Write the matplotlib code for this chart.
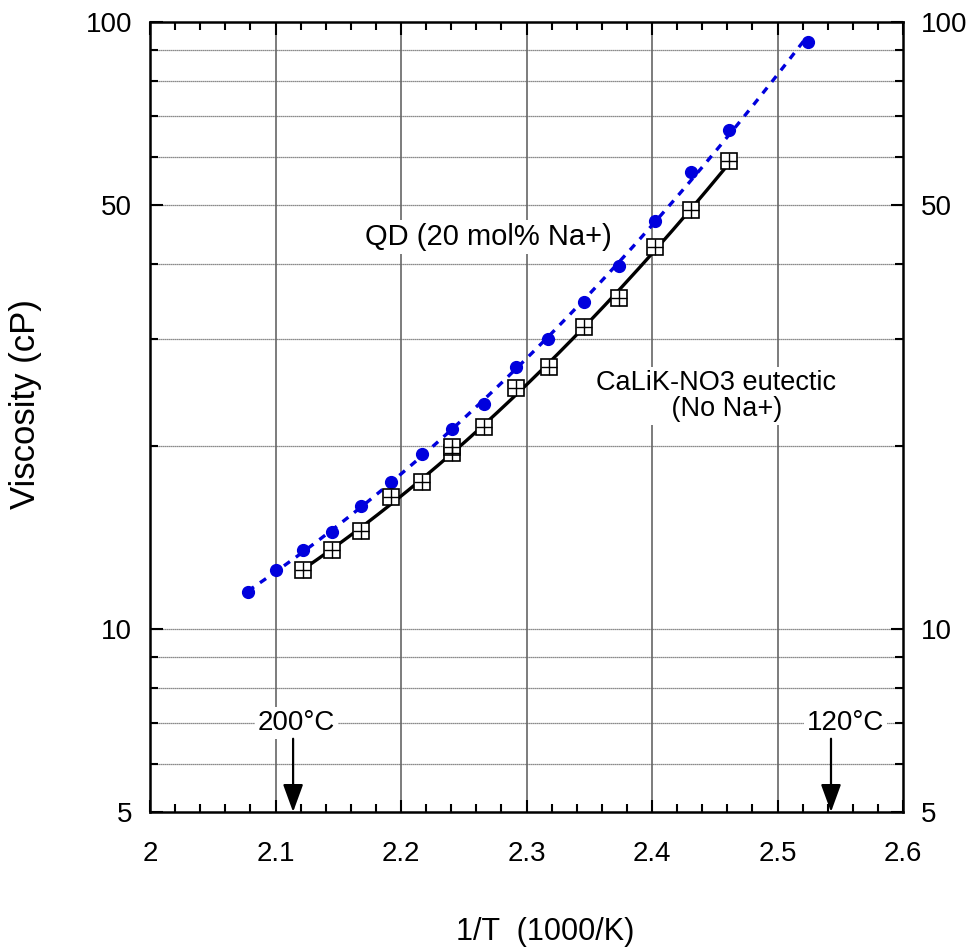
import numpy as np
import matplotlib
matplotlib.use('Agg')
import matplotlib.pyplot as plt
from matplotlib.ticker import FixedLocator, NullFormatter, MultipleLocator

plt.rcParams['font.family'] = ['Liberation Sans', 'DejaVu Sans']

# QD (20 mol% Na+) measured points
qd_x = [2.078, 2.100, 2.122, 2.145, 2.168, 2.192, 2.217, 2.241, 2.266,
        2.292, 2.317, 2.346, 2.374, 2.402, 2.431, 2.461, 2.524]
qd_y = [11.5, 12.5, 13.5, 14.45, 15.95, 17.5, 19.4, 21.4, 23.5,
        27.0, 30.0, 34.6, 39.6, 47.0, 56.6, 66.4, 92.7]

# CaLiK-NO3 eutectic (no Na+)
ck_x = [2.122, 2.145, 2.168, 2.192, 2.217, 2.241, 2.241, 2.266, 2.292,
        2.318, 2.346, 2.374, 2.402, 2.431, 2.461]
ck_y = [12.5, 13.5, 14.5, 16.5, 17.5, 19.5, 19.95, 21.5, 25.0,
        27.0, 31.4, 35.1, 42.6, 49.0, 59.0]

y_grid = [6, 7, 8, 9, 10, 20, 30, 40, 50, 60, 70, 80, 90]
y_labels = [5, 10, 50, 100]

fig = plt.figure(figsize=(9.71, 9.52), dpi=100)
ax = fig.add_axes([0.1545, 0.1471, 0.7755, 0.8298])
ax.set_yscale('log')
ax.set_xlim(2.0, 2.6)
ax.set_ylim(5, 100)

# grid
for g in y_grid:
    ax.axhline(g, color='#666666', lw=0.9, ls=(0, (1, 0.6)), zorder=0)
for g in [2.1, 2.2, 2.3, 2.4, 2.5]:
    ax.axvline(g, color='#666666', lw=1.2, zorder=0)

# fitted curves (quadratic in log space)
def fit_curve(x, y, x0, x1):
    c = np.polyfit(x, np.log10(y), 2)
    xs = np.linspace(x0, x1, 200)
    return xs, 10 ** np.polyval(c, xs)

xs, ys = fit_curve(qd_x, qd_y, qd_x[0], qd_x[-1])
ax.plot(xs, ys, color='#0000dd', lw=2.4, ls=(0, (2.2, 2.2)), zorder=2)
xs, ys = fit_curve(ck_x, ck_y, ck_x[0], ck_x[-1])
ax.plot(xs, ys, color='black', lw=2.4, zorder=2)

ax.plot(qd_x, qd_y, 'o', color='#0000dd', ms=8.5, zorder=3)
ax.plot(ck_x, ck_y, 's', mfc='white', mec='black', mew=1.2, ms=11, zorder=4)
ax.plot(ck_x, ck_y, '+', color='black', mew=1.0, ms=11, zorder=5)

box = dict(facecolor='white', edgecolor='none', pad=2)
ax.text(2.270, 44.3, 'QD (20 mol% Na+)', fontsize=21, ha='center', va='center', bbox=box, zorder=6)
ax.text(2.451, 24.2, 'CaLiK-NO3 eutectic\n   (No Na+)', fontsize=19.5, ha='center', va='center',
        linespacing=1.0, bbox=box, zorder=6)

ax.text(2.1165, 7.0, '200\u00b0C', fontsize=20, ha='center', va='center', bbox=box, zorder=6)
ax.text(2.5545, 7.0, '120\u00b0C', fontsize=20, ha='center', va='center', bbox=box, zorder=6)
for xa in [2.114, 2.5426]:
    ax.annotate('', xy=(xa, 5.0), xytext=(xa, 6.6),
                arrowprops=dict(arrowstyle='-|>,head_length=1.7,head_width=0.62', color='black', lw=1.6,
                                shrinkA=0, shrinkB=0), zorder=7)

# ticks
ax.xaxis.set_minor_locator(MultipleLocator(0.02))
ax.set_xticks([2.0, 2.1, 2.2, 2.3, 2.4, 2.5, 2.6])
ax.set_xticklabels(['2', '2.1', '2.2', '2.3', '2.4', '2.5', '2.6'])
ax.yaxis.set_major_locator(FixedLocator(y_labels))
ax.yaxis.set_minor_locator(FixedLocator(y_grid))
ax.yaxis.set_minor_formatter(NullFormatter())
ax.set_yticklabels([str(v) for v in y_labels])
ax.tick_params(which='both', direction='in', top=True, right=True, labelright=True,
               labelsize=20, width=1.5)
ax.tick_params(which='major', length=9)
ax.tick_params(which='minor', length=6)
ax.tick_params(axis='x', pad=21)
ax.tick_params(axis='y', pad=13)
for s in ax.spines.values():
    s.set_linewidth(1.8)

fig.text(545 / 971, 1 - 932 / 952, '1/T  (1000/K)', fontsize=22, ha='center', va='center')
fig.text(25 / 971, 1 - 404 / 952, 'Viscosity (cP)', fontsize=25, ha='center', va='center',
         rotation=90)

fig.savefig('out.png', dpi=100)
